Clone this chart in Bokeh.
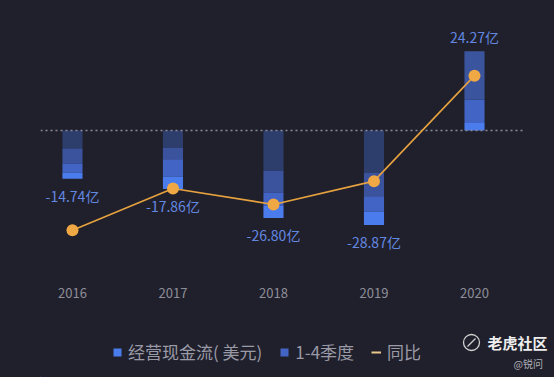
from bokeh.plotting import figure
from bokeh.layouts import column
from bokeh.models import (Range1d, FixedTicker, ColumnDataSource, Legend, LegendItem)
from bokeh.core.properties import value
from bokeh.embed import file_html
from bokeh.resources import INLINE

# ---- data ----
years = [2016, 2017, 2018, 2019, 2020]
year_labels = ["2016", "2017", "2018", "2019", "2020"]
totals = [-14.74, -17.86, -26.80, -28.87, 24.27]          # 经营现金流 (亿美元)
total_labels = ["-14.74亿", "-17.86亿", "-26.80亿", "-28.87亿", "24.27亿"]
# quarterly segments, stacked from the baseline outward
seg1 = [-5.50, -5.30, -12.30, -13.00, 2.30]
seg2 = [-4.60, -3.50, -6.70, -7.10, 7.20]
seg3 = [-2.80, -5.30, -4.00, -4.70, 14.77]
seg4 = [-1.84, -3.76, -3.80, -4.07, 0.00]
yoy = [-97.0, -21.17, -50.06, -7.72, 184.07]              # 同比 (%)
legend_labels = ["经营现金流( 美元)", "1-4季度", "同比"]
brand = "老虎社区"
author = "@锐问"

FONT = "Noto Sans CJK SC"
BG = "#20202c"
neg_colors = ["#2d3d6c", "#3a539c", "#4264c4", "#4b7cee"]
pos_colors = ["#4b7cee", "#4264c4", "#3a559e", "#3a559e"]
LINE_C = "#e6a23e"

# build stacked segments
xs, bottoms, tops, colors = [], [], [], []
for i, yr in enumerate(years):
    base = 0.0
    for lvl, seg in enumerate([seg1, seg2, seg3, seg4]):
        v = seg[i]
        if v == 0:
            continue
        xs.append(yr)
        bottoms.append(base)
        tops.append(base + v)
        colors.append(neg_colors[lvl] if totals[i] < 0 else pos_colors[lvl])
        base += v
bar_src = ColumnDataSource(dict(x=xs, bottom=bottoms, top=tops, color=colors))

X0, X1 = years[0] - 0.318, years[-1] + 0.796
p = figure(width=554, height=310,
           x_range=Range1d(X0, X1),
           y_range=Range1d(-46.8, 36.7),
           output_backend="svg", toolbar_location=None,
           background_fill_alpha=0, border_fill_color=BG, outline_line_color=None,
           min_border_left=40, min_border_right=0, min_border_top=10, min_border_bottom=27)
p.extra_y_ranges = {"yoy": Range1d(-193.8, 302.5)}

p.xgrid.visible = False
p.ygrid.visible = False
p.yaxis.visible = False

p.vbar(x="x", bottom="bottom", top="top", width=0.2, fill_color="color",
       line_color=None, source=bar_src)

# dashed zero line
p.segment(x0=[X0], y0=[0], x1=[years[-1] + 0.488], y1=[0], line_color="#8a8a9a",
          line_width=1.5, line_dash="2 3")

p.line(years, yoy, y_range_name="yoy", line_color=LINE_C, line_width=1.6)
p.scatter(years, yoy, y_range_name="yoy", size=12, fill_color="#f0a845",
          line_color=None)

offsets = [17 if t < 0 else -14 for t in totals]
lab_src = ColumnDataSource(dict(x=years, y=totals, t=total_labels, off=offsets))
p.text(x="x", y="y", text="t", y_offset="off", source=lab_src,
       text_font=value(FONT), text_font_size="14px", text_color="#6388e2",
       text_align="center", text_baseline="middle")

ax = p.xaxis[0]
ax.ticker = FixedTicker(ticks=years)
ax.major_label_overrides = {y: l for y, l in zip(years, year_labels)}
ax.axis_line_color = None
ax.major_tick_line_color = None
ax.minor_tick_line_color = None
ax.major_tick_out = 0
ax.major_tick_in = 0
ax.major_label_standoff = 4
ax.major_label_text_font = FONT
ax.major_label_text_font_size = "13px"
ax.major_label_text_color = "#8e8e98"

# ---- bottom strip: legend + watermark ----
p2 = figure(width=554, height=67, x_range=Range1d(40, 554), y_range=Range1d(0, 67),
            output_backend="svg", toolbar_location=None,
            background_fill_alpha=0, border_fill_color=BG, outline_line_color=None,
            min_border_left=40, min_border_right=0, min_border_top=0, min_border_bottom=0)
p2.axis.visible = False
p2.grid.visible = False

r1 = p2.vbar(x=[-1000], top=[1], width=1, fill_color=neg_colors[3], line_color=None)
r2 = p2.vbar(x=[-1000], top=[1], width=1, fill_color=neg_colors[2], line_color=None)
r3 = p2.line(x=[-1000, -999], y=[1, 1], line_color="#e9c98a", line_width=2)

legend = Legend(items=[
    LegendItem(label=legend_labels[0], renderers=[r1]),
    LegendItem(label=legend_labels[1], renderers=[r2]),
    LegendItem(label=legend_labels[2], renderers=[r3]),
], orientation="horizontal", location=(72, 13),
    background_fill_alpha=0, border_line_color=None,
    label_text_font=FONT, label_text_font_size="17px", label_text_color="#9a9aa6",
    glyph_width=10, glyph_height=10, label_standoff=6, spacing=17,
    padding=4, margin=0)
p2.add_layout(legend)

p2.text(x=[487], y=[35], text=[brand], text_font=value(FONT), text_font_size="15px",
        text_font_style="bold", text_color="#eeeeee", text_baseline="middle")
p2.circle(x=[471], y=[35], radius=8, radius_units="screen", fill_color=None,
          line_color="#d0d0d0", line_width=1.3)
p2.segment(x0=[467], y0=[31], x1=[475], y1=[39], line_color="#d0d0d0", line_width=1.3)
p2.text(x=[513], y=[14], text=[author], text_font=value(FONT), text_font_size="10px",
        text_color="#b0b0b8", text_baseline="middle")

layout = column(p, p2, spacing=0, styles={"background-color": BG})
html = file_html(layout, INLINE)
html = html.replace("<head>", "<head><style>html,body{margin:0;background:%s;}</style>" % BG, 1)
open("out.html", "w").write(html)
